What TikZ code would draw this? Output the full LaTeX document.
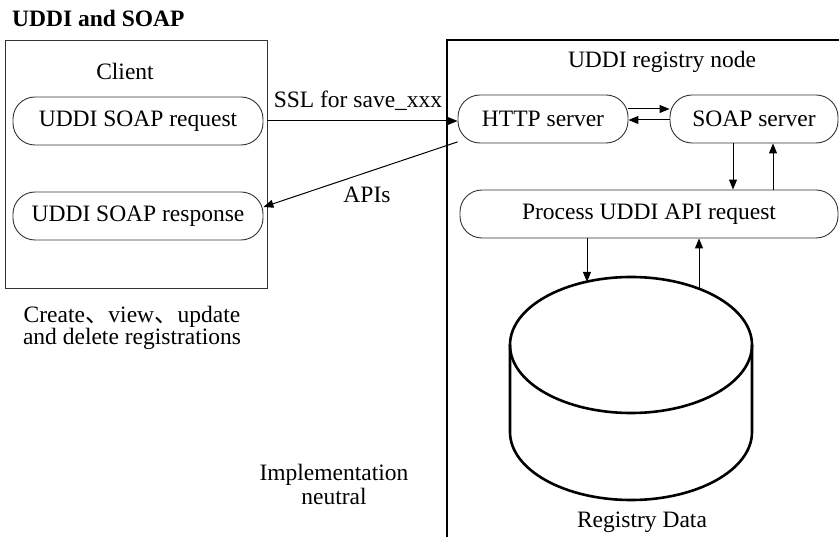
\documentclass[tikz,border=0pt]{standalone}
\usepackage{fontspec}
\setmainfont{Liberation Serif}
\newfontfamily\cjk{Noto Sans CJK SC}
\usepackage{tikz}
\usetikzlibrary{arrows.meta}

\begin{document}
\begin{tikzpicture}[x=1pt,y=-1pt,
  font=\fontsize{23.5}{28}\selectfont,
  box/.style={draw=black!80,line width=0.9pt},
  pill/.style={draw=black!80,line width=0.9pt,rounded corners=22pt,minimum height=48pt,inner sep=0pt},
  arr/.style={line width=1pt,-{Triangle[length=10pt,width=8pt]}},
  db/.style={line width=2.6pt},
  txt/.style={anchor=base,inner sep=0pt}]
  \useasboundingbox (0,0) rectangle (839,537);
  \node[txt,anchor=base west,font=\fontsize{23.5}{28}\selectfont\bfseries] (title) at (12,27) {UDDI and SOAP};
  \node[box,minimum width=262pt,minimum height=248pt] (client) at (136,164) {};
  \node[txt] (clientname) at (125,80) {Client};
  \node[pill,minimum width=250pt] (req) at (138,121) {UDDI SOAP request};
  \node[pill,minimum width=250pt] (resp) at (138,216) {UDDI SOAP response};
  \node[txt] (crud1) at (132,323) {Create{\cjk 、}view{\cjk 、}update};
  \node[txt] (crud2) at (132,345) {and delete registrations};
  \draw[line width=1.6pt] (447,537) -- (447,40) -- (839,40);
  \node[txt] (regname) at (662,68) {UDDI registry node};
  \node[pill,minimum width=170pt] (http) at (543,119) {HTTP server};
  \node[pill,minimum width=168pt] (soap) at (754,119) {SOAP server};
  \node[pill,minimum width=378pt] (proc) at (649,214) {Process UDDI API request};
  \draw[db] (631,345) ellipse [x radius=121, y radius=68];
  \draw[db] (510,345) -- (510,432) arc[start angle=180,end angle=0,x radius=121,y radius=68] -- (752,345);
  \coordinate (dbin) at (587,282);
  \coordinate (dbout) at (699,289);
  \node[txt] (dbname) at (642,528) {Registry Data};
  \node[txt] (impl1) at (334,481) {Implementation};
  \node[txt] (impl2) at (334,504) {neutral};
  \draw[arr] (client.east |- req.east) -- (http.west |- req.east);
  \node[txt] (ssl) at (358,108) {SSL for save\_xxx};
  \draw[arr] (http.195) -- ([yshift=9pt]resp.east);
  \node[txt] (apis) at (367,203) {APIs};
  \draw[arr] ([yshift=10pt]http.east) -- ([yshift=10pt]soap.west);
  \draw[arr] ([yshift=-1pt]soap.west) -- ([yshift=-1pt]http.east);
  \draw[arr] ([xshift=-21pt]soap.south) -- ([xshift=-21pt]soap.south |- proc.north);
  \draw[arr] ([xshift=19pt]soap.south |- proc.north) -- ([xshift=19pt]soap.south);
  \draw[arr] (proc.south -| dbin) -- (dbin);
  \draw[arr] (dbout) -- (proc.south -| dbout);
\end{tikzpicture}
\end{document}
